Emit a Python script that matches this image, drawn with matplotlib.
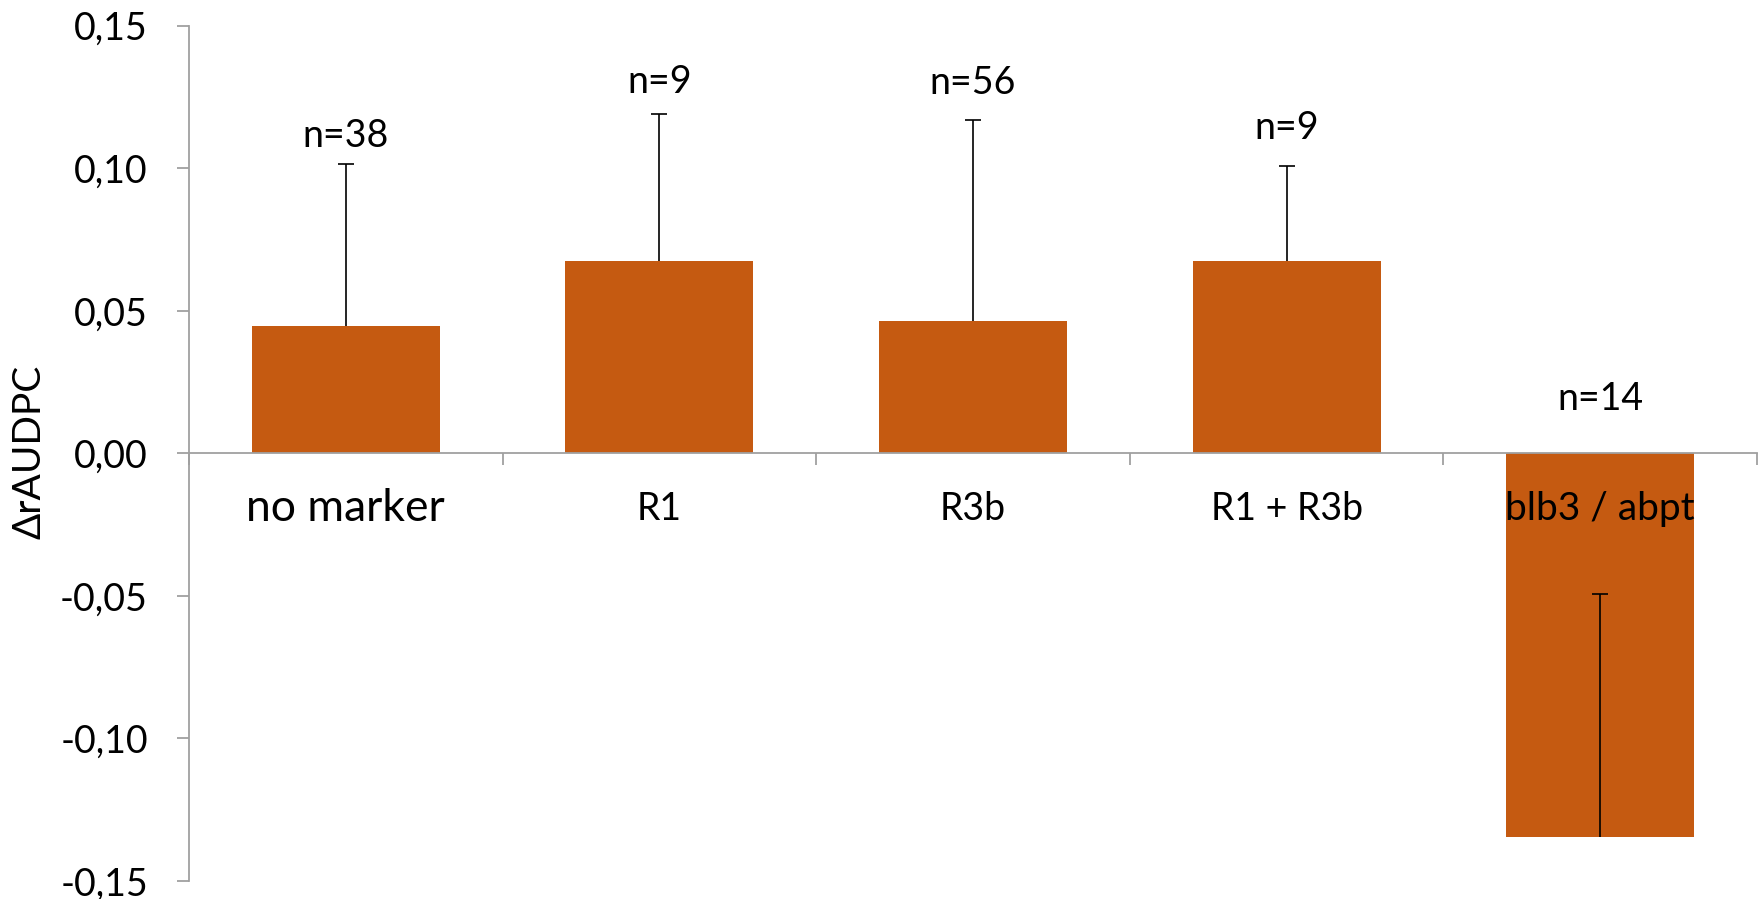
import matplotlib
matplotlib.use("Agg")
import matplotlib.pyplot as plt
import numpy as np
from matplotlib.ticker import FuncFormatter

# data
categories = ["no marker", "R1", "R3b", "R1 + R3b", "blb3 / abpt"]
means = [0.0445, 0.0674, 0.0465, 0.0676, -0.1345]
err_up = [0.0570, 0.0516, 0.0705, 0.0331, 0.0852]
n_labels = ["n=38", "n=9", "n=56", "n=9", "n=14"]

# layout of the annotations (data units) and per-label font sizes
n_label_y = [0.1112, 0.1302, 0.1298, 0.1140, 0.0191]
cat_sizes = [32, 27, 27, 27, 28]

plt.rcParams['font.family'] = ['Lato', 'DejaVu Sans']

fig = plt.figure(figsize=(17.63, 8.99), dpi=100)
ax = fig.add_axes([189/1763, 1-881/899, 1568/1763, (881-25.7)/899])

x = np.arange(len(categories))
ax.bar(x, means, width=0.6, color="#C55A11", zorder=2)
eb = ax.errorbar(x, means, yerr=[np.zeros(len(x)), err_up], fmt="none",
                 ecolor="black", elinewidth=1.2, capsize=5.5, capthick=1.2, zorder=3)
# only the plus direction has a cap
eb[1][0].set_visible(False)

for xi, lab, ly in zip(x, n_labels, n_label_y):
    ax.text(xi, ly, lab, ha="center", va="center", fontsize=27)

for xi, lab, fs in zip(x, categories, cat_sizes):
    ax.text(xi, -0.0195, lab, ha="center", va="center", fontsize=fs, zorder=4)

ax.set_xlim(-0.5, len(categories) - 0.5)
ax.set_ylim(-0.15, 0.15)
ax.set_yticks(np.arange(-0.15, 0.151, 0.05))
ax.yaxis.set_major_formatter(FuncFormatter(lambda v, p: f"{v:.2f}".replace(".", ",")))
ax.set_xticks(np.arange(-0.5, len(categories), 1.0))
ax.set_xticklabels([])

axis_gray = "#a0a0a0"
for s in ["top", "right"]:
    ax.spines[s].set_visible(False)
ax.spines["left"].set_color(axis_gray)
ax.spines["left"].set_linewidth(1.3)
ax.spines["bottom"].set_position(("data", 0))
ax.spines["bottom"].set_color(axis_gray)
ax.spines["bottom"].set_linewidth(1.3)
ax.tick_params(axis="y", length=8.6, width=1.3, color=axis_gray, pad=21, labelsize=27)
ax.tick_params(axis="x", length=8.6, width=1.3, color=axis_gray, direction="out")

fig.text(30/1763, 1-452/899, "ΔrAUDPC", rotation=90, ha="center", va="center", fontsize=28)

fig.savefig("out.png", dpi=100)
